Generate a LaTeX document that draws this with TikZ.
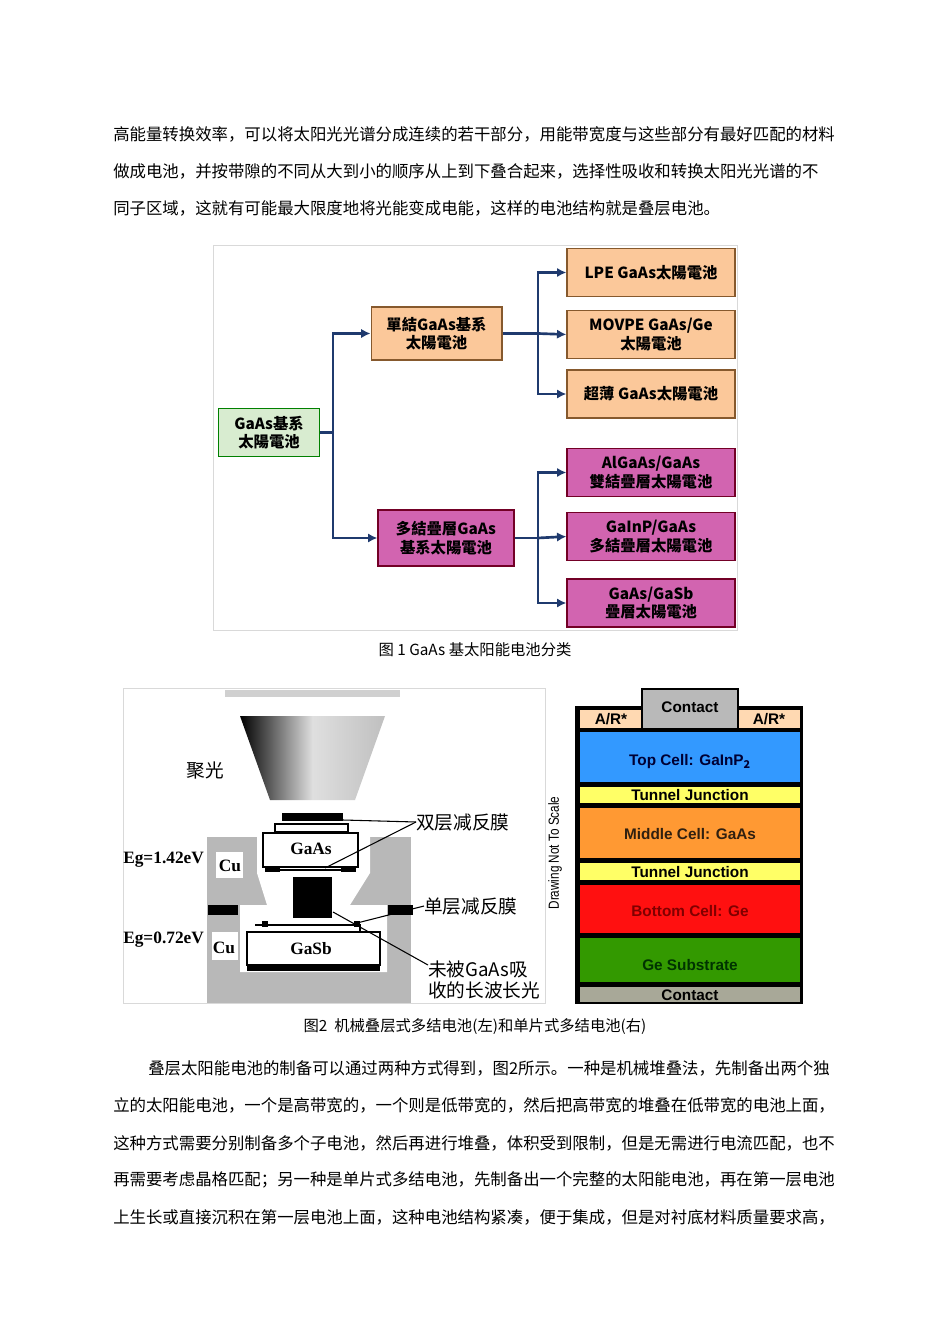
\documentclass[tikz,border=0pt]{standalone}
\usepackage{fontspec}
\setmainfont{Noto Sans CJK SC}
\newfontfamily\lat{Liberation Sans}
\newfontfamily\ser{Liberation Serif}
\usetikzlibrary{arrows.meta,shadings}
\definecolor{navy}{HTML}{1F3A6E}
\definecolor{org}{HTML}{FBC89A}
\definecolor{pnk}{HTML}{D264B0}
\definecolor{grn}{HTML}{D8ECD0}
\definecolor{spk}{HTML}{B8B8B8}
\definecolor{c1}{HTML}{3399FF}\definecolor{c2}{HTML}{FFFF66}\definecolor{c3}{HTML}{FF9933}\definecolor{c4}{HTML}{FF1010}\definecolor{c5}{HTML}{339900}\definecolor{c6}{HTML}{A8A898}
\begin{document}
\begin{tikzpicture}[x=0.75pt,y=-0.75pt,
 body/.style={anchor=west,inner sep=0,font=\fontsize{12.3}{14}\selectfont},
 capn/.style={inner sep=0,font=\fontsize{11.5}{14}\selectfont},
 tbox/.style={draw,line width=1pt,font=\fontsize{11.5}{14}\selectfont\bfseries,align=center,inner sep=0},
 arr/.style={navy,line width=2pt,-{Latex[length=7pt,width=7pt]}},
 ln/.style={navy,line width=2pt},
 layer/.style={inner sep=0,font=\lat\bfseries\fontsize{11.5}{13}\selectfont},
 lbl/.style={inner sep=0,font=\fontsize{14}{16}\selectfont},
 lead/.style={line width=0.8pt}]
\useasboundingbox (0,0) rectangle (950,1344);
\fill[white] (0,0) rectangle (950,1344);
% top paragraph
\node[body] (p1) at (113,134) {高能量转换效率，可以将太阳光光谱分成连续的若干部分，用能带宽度与这些部分有最好匹配的材料};
\node[body] (p2) at (113,171) {做成电池，并按带隙的不同从大到小的顺序从上到下叠合起来，选择性吸收和转换太阳光光谱的不};
\node[body] (p3) at (113,208) {同子区域，这就有可能最大限度地将光能变成电能，这样的电池结构就是叠层电池。};
% tree
\draw[gray!30] (213,245) rectangle (737,630);
\node[tbox,draw=green!50!black,fill=grn] (root) at (269,432.5) {\parbox[c][36pt][c]{76pt}{\centering GaAs基系\\太陽電池}};
\node[tbox,draw=brown!70!black,fill=org] (s1) at (436.5,333.5) {\parbox[c][39.75pt][c]{98pt}{\centering 單結GaAs基系\\太陽電池}};
\node[tbox,draw=purple!60!black,fill=pnk] (m1) at (446,538) {\parbox[c][42pt][c]{102pt}{\centering 多結疊層GaAs\\基系太陽電池}};
\foreach \n/\y/\t in {a/272.5/LPE GaAs太陽電池,b/334.5/{MOVPE GaAs/Ge\\太陽電池},c/394/超薄 GaAs太陽電池}
 \node[tbox,draw=brown!70!black,fill=org] (\n) at (651,\y) {\parbox[c][36pt][c]{126pt}{\centering \t}};
\foreach \n/\y/\t in {d/472.5/{AlGaAs/GaAs\\雙結疊層太陽電池},e/536.5/{GaInP/GaAs\\多結疊層太陽電池},f/603/{GaAs/GaSb\\疊層太陽電池}}
 \node[tbox,draw=purple!60!black,fill=pnk] (\n) at (651,\y) {\parbox[c][36pt][c]{126pt}{\centering \t}};
\coordinate (j0) at (333,432.5);
\draw[ln] (root.east) -- (j0);
\draw[arr] (j0) |- (s1.west);
\draw[arr] (j0) |- (m1.west);
\coordinate (j1) at (538,333.5);
\draw[ln] (s1.east) -- (j1);
\draw[arr] (j1) |- (a.west);
\draw[arr] (j1) |- (c.west);
\draw[arr] (j1) -- (b.west);
\coordinate (j2) at (538,538);
\draw[ln] (m1.east) -- (j2);
\draw[arr] (j2) |- (d.west);
\draw[arr] (j2) |- (f.west);
\draw[arr] (j2) -- (e.west);
\node[capn] (c1n) at (475,650) {图 1 GaAs 基太阳能电池分类};
% left figure
\draw[gray!30] (123,688) rectangle (545,1003);
\fill[gray!60,opacity=.6] (225,690) rectangle (400,697);
\shade[left color=black,right color=gray!50,middle color=gray!25] (240,716) -- (385,716) -- (355,800) -- (270,800) -- cycle;
\fill[spk] (207,837) rectangle (411,1003);
\fill[white] (257,837) -- (370,837) -- (370,873) -- (350,905) -- (387,905) -- (387,972) -- (240,972) -- (240,905) -- (267,905) -- (257,873) -- cycle;
\fill[white] (216,852) rectangle (243,878);
\fill[white] (212,932) rectangle (238,960);
\fill[black] (208,905) rectangle (238,915);
\fill[black] (388,905) rectangle (413,915);
\draw[line width=1pt,fill=white] (263,833) rectangle (358,867);
\draw[line width=1pt] (275,832) rectangle (348,824);
\fill[black] (282,813) rectangle (343,821);
\fill[black] (265,866) rectangle (280,872);
\fill[black] (341,866) rectangle (356,872);
\draw[line width=1pt] (280,870) -- (341,870);
\fill[black] (293,877) rectangle (332,918);
\draw[line width=1pt,fill=white] (247,932) rectangle (380,965);
\draw[line width=1pt] (255,925) -- (360,925) -- (360,932);
\fill[black] (262,921) rectangle (268,927);
\fill[black] (354,921) rectangle (360,927);
\fill[black] (247,966) rectangle (380,971);
\node[inner sep=0,font=\ser\bfseries\fontsize{13}{15}\selectfont] (ga) at (311,849) {GaAs};
\node[inner sep=0,font=\ser\bfseries\fontsize{13}{15}\selectfont] (gs) at (311,949) {GaSb};
\node[inner sep=0,font=\ser\bfseries\fontsize{13}{15}\selectfont] (cu1) at (230,866) {Cu};
\node[inner sep=0,font=\ser\bfseries\fontsize{13}{15}\selectfont] (cu2) at (224,948) {Cu};
\node[inner sep=0,anchor=west,font=\ser\bfseries\fontsize{13}{15}\selectfont] (e1) at (123,860) {Eg=1.42eV};
\node[inner sep=0,anchor=west,font=\ser\bfseries\fontsize{13}{15}\selectfont] (e2) at (123,940) {Eg=0.72eV};
\node[lbl] (jg) at (205,770) {聚光};
\node[lbl,anchor=west] (l1) at (416,822) {双层减反膜};
\node[lbl,anchor=west] (l2) at (424,906) {单层减反膜};
\node[lbl,anchor=west,align=left] (l3) at (428,980) {未被GaAs吸\\收的长波长光};
\coordinate (q1) at (343,820); \coordinate (q2) at (325,868);
\coordinate (q3) at (357,923); \coordinate (q4) at (333,912);
\coordinate (q5) at (428,965);
\draw[lead] (q1) -- (l1.west); \draw[lead] (q2) -- (l1.west);
\draw[lead] (q3) -- (l2.west);
\draw[lead] (q4) -- (q5);
% right figure
\node[rotate=90,inner sep=0,font=\lat\fontsize{11}{13}\selectfont,xscale=0.8] (dn) at (555,853) {Drawing Not To Scale};
\fill[black] (575,706) rectangle (803,1004);
\fill[black] (641,688) rectangle (739,730);
\fill[gray!55] (643,690) rectangle (737,728);
\node[layer] (ct) at (690,707) {Contact};
\fill[orange!30] (580,710) rectangle (641,728);
\fill[orange!30] (739,710) rectangle (800,728);
\node[layer] (ar1) at (611,719) {A/R*};
\node[layer] (ar2) at (769,719) {A/R*};
\fill[c1] (580,732) rectangle (800,782);
\fill[c2] (580,787) rectangle (800,803);
\fill[c3] (580,808) rectangle (800,858);
\fill[c2] (580,863) rectangle (800,880);
\fill[c4] (580,885) rectangle (800,933);
\fill[c5] (580,938) rectangle (800,982);
\fill[c6] (580,987) rectangle (800,1002);
\node[layer,text=black!80!blue] (t1) at (690,762) {Top Cell: GaInP$_\mathbf{2}$};
\node[layer] (t2) at (690,795) {Tunnel Junction};
\node[layer,text=black!75!brown] (t3) at (690,834) {Middle Cell: GaAs};
\node[layer] (t4) at (690,872) {Tunnel Junction};
\node[layer,text=red!50!black] (t5) at (690,911) {Bottom Cell: Ge};
\node[layer,text=green!20!black] (t6) at (690,965) {Ge Substrate};
\node[layer] (t7) at (690,995) {Contact};
\node[capn] (c2n) at (475,1027) {图2\ \ 机械叠层式多结电池(左)和单片式多结电池(右)};
% bottom paragraph
\node[body] (b1) at (148,1068) {叠层太阳能电池的制备可以通过两种方式得到，图2所示。一种是机械堆叠法，先制备出两个独};
\node[body] (b2) at (113,1105) {立的太阳能电池，一个是高带宽的，一个则是低带宽的，然后把高带宽的堆叠在低带宽的电池上面，};
\node[body] (b3) at (113,1143) {这种方式需要分别制备多个子电池，然后再进行堆叠，体积受到限制，但是无需进行电流匹配，也不};
\node[body] (b4) at (113,1180) {再需要考虑晶格匹配；另一种是单片式多结电池，先制备出一个完整的太阳能电池，再在第一层电池};
\node[body] (b5) at (113,1217) {上生长或直接沉积在第一层电池上面，这种电池结构紧凑，便于集成，但是对衬底材料质量要求高，};
\end{tikzpicture}
\end{document}
